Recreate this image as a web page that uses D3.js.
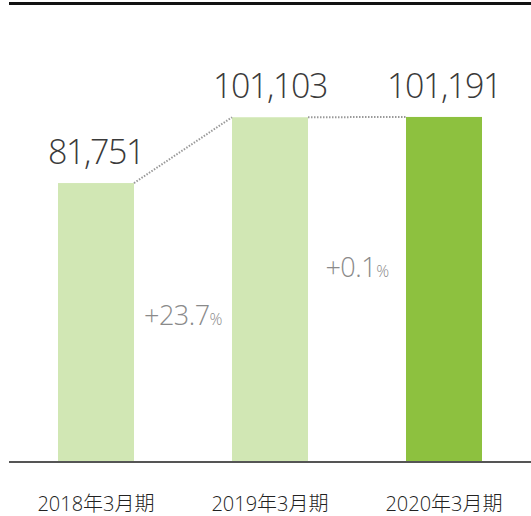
<!DOCTYPE html>
<html lang="ja">
<head>
    <meta charset="UTF-8">
    <title>売上推移</title>
    <script src="https://d3js.org/d3.v7.min.js"></script>
    <style>
        body { margin: 0; background: #fff; }
        svg { display: block; font-family: "Open Sans", "Noto Sans CJK JP", sans-serif; }
        .value-label { font-size: 34px; font-weight: 300; fill: #3a3a3a; text-anchor: middle; letter-spacing: -1.4px; }
        .growth-label { font-size: 27px; font-weight: 300; fill: #8a8a8a; text-anchor: middle; letter-spacing: -0.5px; }
        .x-label { font-size: 20px; font-weight: 300; fill: #222; text-anchor: middle; }
    </style>
</head>
<body>
<div id="chart-container"></div>
<script>
// data
const periods = ['2018年3月期', '2019年3月期', '2020年3月期'];
const values = [81751, 101103, 101191];
const barColors = ['#d1e7b4', '#d1e7b4', '#8dc13f'];
const growthLabels = ['+23.7', '+0.1'];

const width = 531, height = 516;

const svg = d3.select('#chart-container')
    .append('svg')
    .attr('width', width)
    .attr('height', height);

// scales
const x = d3.scaleBand()
    .domain(periods)
    .range([9, 531])
    .paddingInner(0.5632)
    .paddingOuter(0.2816);

const y = d3.scaleLinear()
    .domain([0, 120000])
    .range([461, 53]);

const data = periods.map((p, i) => ({ period: p, value: values[i], color: barColors[i] }));

// top rule
svg.append('line')
    .attr('x1', 9).attr('x2', width)
    .attr('y1', 3.5).attr('y2', 3.5)
    .attr('stroke', '#111')
    .attr('stroke-width', 3);

// bars
svg.selectAll('.bar')
    .data(data)
    .enter()
    .append('rect')
    .attr('class', 'bar')
    .attr('x', d => x(d.period))
    .attr('y', d => y(d.value))
    .attr('width', x.bandwidth())
    .attr('height', d => y(0) - y(d.value))
    .attr('fill', d => d.color);

// dotted connectors between bar tops
const links = d3.pairs(data);
svg.selectAll('.link')
    .data(links)
    .enter()
    .append('line')
    .attr('class', 'link')
    .attr('x1', d => x(d[0].period) + x.bandwidth())
    .attr('y1', d => y(d[0].value))
    .attr('x2', d => x(d[1].period))
    .attr('y2', d => y(d[1].value))
    .attr('stroke', '#9a9a9a')
    .attr('stroke-width', 2)
    .attr('stroke-dasharray', '1.5,1.5');

// value labels
svg.selectAll('.value-label')
    .data(data)
    .enter()
    .append('text')
    .attr('class', 'value-label')
    .attr('x', d => x(d.period) + x.bandwidth() / 2)
    .attr('y', d => y(d.value) - 19)
    .text(d => d3.format(',')(d.value));

// growth labels, centred in the gap between bars
const growthY = [325, 277];
const g = svg.selectAll('.growth-label')
    .data(links)
    .enter()
    .append('text')
    .attr('class', 'growth-label')
    .attr('x', d => (x(d[0].period) + x.bandwidth() + x(d[1].period)) / 2)
    .attr('y', (d, i) => growthY[i]);
g.append('tspan').text((d, i) => growthLabels[i]);
g.append('tspan').attr('font-size', 16).text('%');

// baseline
svg.append('line')
    .attr('x1', 9).attr('x2', width)
    .attr('y1', y(0) + 1).attr('y2', y(0) + 1)
    .attr('stroke', '#555')
    .attr('stroke-width', 2);

// x labels
svg.selectAll('.x-label')
    .data(periods)
    .enter()
    .append('text')
    .attr('class', 'x-label')
    .attr('x', d => x(d) + x.bandwidth() / 2)
    .attr('y', 511)
    .text(d => d);
</script>
</body>
</html>
